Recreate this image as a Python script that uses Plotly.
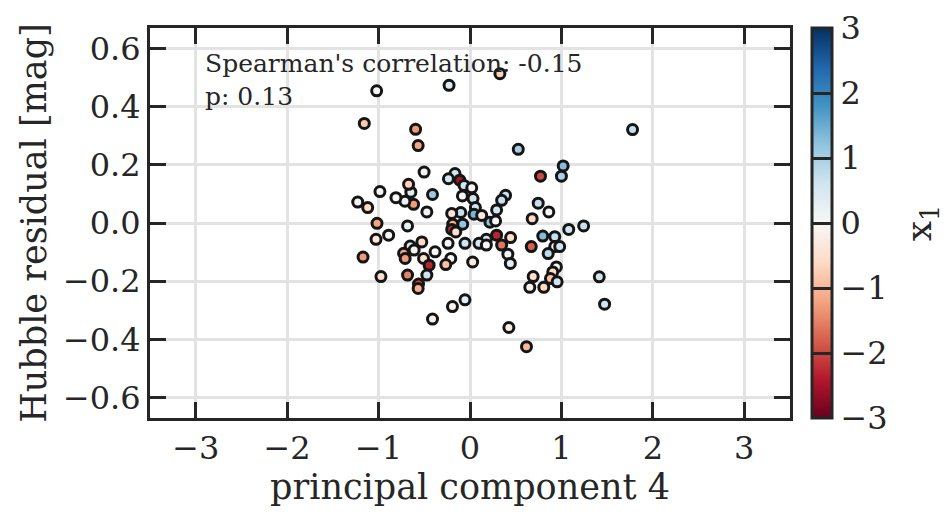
import plotly.graph_objects as go

# principal component 4 values
pc4 = [0.327, -1.021, -0.229, -1.156, -0.595, -0.567, 0.528, 1.778, 1.019, 0.771,
       1.000, -0.502, -0.164, -0.236, -0.112, -0.065, 0.019, 0.033, 0.059, 0.044,
       0.128, 0.389, 0.346, 0.291, 0.218, 0.280, 0.291, 0.179, 0.098, 0.179,
       0.346, 0.444, 0.414, 0.441, 0.029, -0.210, -0.265, -0.055, -0.240, -0.080,
       -0.101, -0.200, -0.189, -0.200, -0.156, -0.472, -0.410, -0.617, -0.712, -0.647,
       -0.672, -0.810, -0.985, -1.228, -1.119, -1.017, -0.890, -1.028, -0.683, -1.170,
       -0.654, -0.527, -0.726, -0.709, -0.611, -0.382, -0.508, -0.447, -0.472, -0.683,
       -0.974, -0.563, -0.567, 0.691, 0.680, 0.670, 0.746, 0.862, 1.080, 1.243,
       0.796, 0.927, 0.927, 0.981, 0.855, 0.945, 0.905, 0.880, 0.953, 1.414,
       0.654, 0.807, 1.472, 0.425, 0.618, -0.192, -0.055, -0.410, -0.083]

# Hubble residual [mag]
hubble_res = [0.513, 0.454, 0.473, 0.342, 0.322, 0.266, 0.253, 0.321, 0.196, 0.161,
              0.161, 0.175, 0.170, 0.152, 0.147, 0.129, 0.121, 0.084, 0.053, 0.030,
              0.026, 0.095, 0.078, 0.045, 0.003, 0.007, -0.042, -0.056, -0.070, -0.076,
              -0.076, -0.050, -0.107, -0.139, -0.134, -0.122, -0.143, -0.070, -0.070, -0.004,
              0.036, 0.033, -0.004, -0.022, -0.031, 0.038, 0.098, 0.064, 0.075, 0.106,
              0.133, 0.087, 0.108, 0.072, 0.053, -0.001, -0.042, -0.056, -0.010, -0.117,
              -0.079, -0.065, -0.104, -0.122, -0.093, -0.099, -0.122, -0.145, -0.179, -0.179,
              -0.184, -0.210, -0.225, -0.184, 0.015, -0.081, 0.068, 0.038, -0.022, -0.010,
              -0.045, -0.047, -0.081, -0.081, -0.105, -0.151, -0.168, -0.191, -0.202, -0.185,
              -0.221, -0.221, -0.279, -0.359, -0.425, -0.287, -0.264, -0.330, 0.093]

# colour value x1
x1 = [-0.7, 0.0, 0.4, -0.8, -1.3, -1.2, 1.0, 0.7, 1.3, -2.0,
      1.0, 0.1, 0.6, 0.6, -2.5, 0.6, 0.0, 0.6, 0.6, 1.4,
      -0.3, 0.7, 0.7, 0.6, 1.2, 0.0, -2.3, 0.6, 0.5, 0.0,
      -1.6, -0.5, 0.1, 0.3, -0.3, 0.0, -0.9, 0.6, 0.0, 1.2,
      0.7, -0.4, -1.1, -2.2, -0.5, 0.1, 1.1, -1.3, 0.2, 0.4,
      -0.7, 0.0, -0.1, -0.1, -0.6, -1.2, 0.0, -0.3, 0.2, -1.3,
      0.5, -0.6, -1.2, -1.3, -0.1, 0.0, -0.5, -2.3, 0.6, -1.5,
      -0.5, -2.0, -1.1, -0.5, -0.6, -1.8, 0.7, 0.0, 0.6, 0.7,
      1.3, 0.7, 0.0, 0.6, 0.8, 0.0, -0.6, -0.9, 0.6, 0.6,
      -0.1, -0.6, 0.6, -0.2, -1.0, -0.1, 0.3, -0.2, 0.0]

x_ticks = [-3, -2, -1, 0, 1, 2, 3]
y_ticks = [-0.6, -0.4, -0.2, 0.0, 0.2, 0.4, 0.6]
cb_ticks = [-3, -2, -1, 0, 1, 2, 3]

stat_lines = ["Spearman's correlation: -0.15", "p: 0.13"]

rdbu = ['rgb(103,0,31)', 'rgb(178,24,43)', 'rgb(214,96,77)', 'rgb(244,165,130)',
        'rgb(253,219,199)', 'rgb(247,247,247)', 'rgb(209,229,240)', 'rgb(146,197,222)',
        'rgb(67,147,195)', 'rgb(33,102,172)', 'rgb(5,48,97)']
cscale = [[i / (len(rdbu) - 1), c] for i, c in enumerate(rdbu)]

INK = '#262626'
FONT = 'DejaVu Serif'

fig = go.Figure()
fig.add_trace(go.Scatter(
    x=pc4, y=hubble_res, mode='markers',
    marker=dict(
        size=10, color=x1, colorscale=cscale, cmin=-3, cmax=3,
        line=dict(color='#151515', width=3),
        showscale=True,
        colorbar=dict(
            x=1.034, xanchor='left', xpad=0, y=0.5, yanchor='middle',
            len=1.0, lenmode='fraction', ypad=0, thickness=20,
            outlinewidth=3, outlinecolor=INK,
            tickmode='array', tickvals=cb_ticks,
            ticks='inside', ticklen=20, tickwidth=3, tickcolor=INK,
            tickfont=dict(family=FONT, size=32, color=INK),
        ),
    ),
    hoverinfo='skip', showlegend=False,
))

fig.add_annotation(
    text='<br>'.join(stat_lines), xref='paper', yref='paper', x=0.084, y=0.867,
    xanchor='left', yanchor='middle', align='left', showarrow=False,
    borderpad=0, font=dict(family=FONT, size=25, color=INK),
)
fig.add_annotation(
    text='x<sub>1</sub>', xref='paper', yref='paper', x=1.205, y=0.5,
    xanchor='center', yanchor='middle', textangle=-90, showarrow=False,
    font=dict(family=FONT, size=36, color=INK),
)

axis_common = dict(
    showline=True, linewidth=3, linecolor=INK, mirror='allticks',
    ticks='inside', ticklen=16, tickwidth=3, tickcolor=INK,
    showgrid=True, gridcolor='#e3e3e3', gridwidth=2.5, zeroline=False,
    tickfont=dict(family=FONT, size=32, color=INK),
)

fig.update_xaxes(range=[-3.5, 3.5], tickmode='array', tickvals=x_ticks,
                 title=dict(text='principal component 4', font=dict(family=FONT, size=35, color=INK), standoff=6),
                 **axis_common)
fig.update_yaxes(range=[-0.67, 0.67], tickmode='array', tickvals=y_ticks, tickformat='.1f',
                 title=dict(text='Hubble residual [mag]', font=dict(family=FONT, size=35, color=INK), standoff=6),
                 **axis_common)

fig.update_layout(
    width=950, height=519,
    margin=dict(l=150, r=160, t=28, b=101),
    plot_bgcolor='white', paper_bgcolor='white',
    font=dict(family=FONT, color=INK),
)

fig.write_html('out.html')
